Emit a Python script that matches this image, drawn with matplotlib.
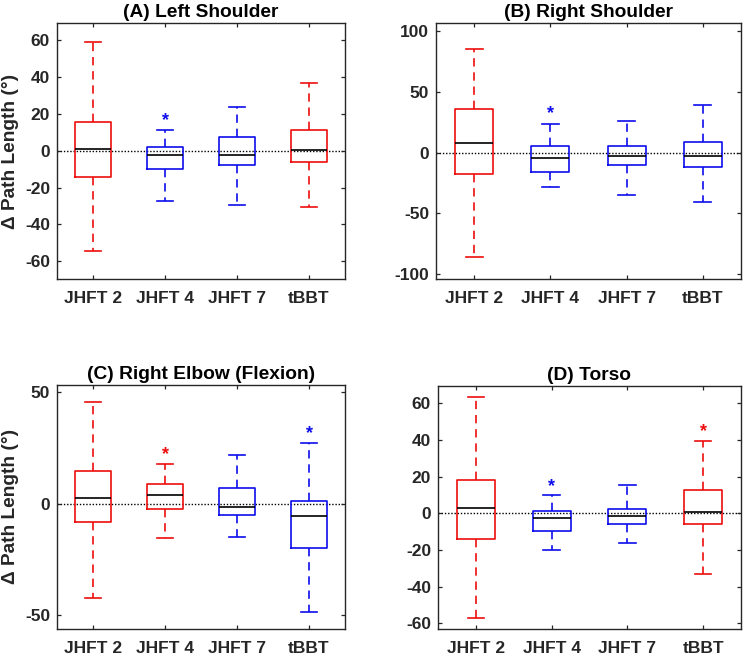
import matplotlib
matplotlib.use("Agg")
import matplotlib.pyplot as plt

plt.rcParams['font.family'] = ['Liberation Sans', 'DejaVu Sans']
plt.rcParams['font.weight'] = 'bold'

categories = ["JHFT 2", "JHFT 4", "JHFT 7", "tBBT"]
titles = ["(A) Left Shoulder", "(B) Right Shoulder", "(C) Right Elbow (Flexion)", "(D) Torso"]

# Panel A
A_whislo = [-54.1, -27.2, -29.7, -30.6]
A_q1     = [-14.4, -10.0, -7.6, -6.2]
A_med    = [1.0, -2.4, -2.6, 0.3]
A_q3     = [15.5, 2.0, 7.4, 11.2]
A_whishi = [58.7, 11.0, 23.4, 36.5]
A_colors = ["r", "b", "b", "r"]
A_stars  = [None, 20.0, None, None]

# Panel B
B_whislo = [-85.5, -28.1, -35.0, -40.7]
B_q1     = [-17.8, -16.1, -10.4, -11.5]
B_med    = [7.9, -4.4, -2.7, -2.7]
B_q3     = [36.1, 5.5, 5.7, 8.7]
B_whishi = [85.2, 24.0, 26.0, 39.3]
B_colors = ["r", "b", "b", "b"]
B_stars  = [None, 38.3, None, None]

# Panel C
C_whislo = [-42.7, -15.4, -14.9, -48.7]
C_q1     = [-8.3, -2.3, -5.2, -20.0]
C_med    = [2.6, 3.7, -1.4, -5.6]
C_q3     = [14.5, 8.9, 7.0, 1.0]
C_whishi = [45.5, 17.6, 21.8, 27.2]
C_colors = ["r", "r", "b", "b"]
C_stars  = [None, 25.3, None, 34.7]

# Panel D
D_whislo = [-57.3, -20.2, -16.0, -33.2]
D_q1     = [-13.8, -9.6, -5.9, -5.6]
D_med    = [2.8, -2.7, -1.7, 0.5]
D_q3     = [18.0, 1.3, 2.4, 12.9]
D_whishi = [63.8, 9.8, 15.3, 39.7]
D_colors = ["r", "b", "b", "r"]
D_stars  = [None, 18.4, None, 48.9]

yticks_list = [[-60, -40, -20, 0, 20, 40, 60], [-100, -50, 0, 50, 100],
               [-50, 0, 50], [-60, -40, -20, 0, 20, 40, 60]]
ylims = [(-69.5, 69), (-104, 107), (-56.3, 53.3), (-63, 69.7)]

panels = [
    (A_whislo, A_q1, A_med, A_q3, A_whishi, A_colors, A_stars),
    (B_whislo, B_q1, B_med, B_q3, B_whishi, B_colors, B_stars),
    (C_whislo, C_q1, C_med, C_q3, C_whishi, C_colors, C_stars),
    (D_whislo, D_q1, D_med, D_q3, D_whishi, D_colors, D_stars),
]

W, H = 746, 656
rects_px = [(57, 23, 345, 279), (436, 23, 741, 279),
            (57, 385, 345, 628.7), (438, 385.7, 741, 628.7)]

colmap = {"r": (0.93, 0.05, 0.05), "b": (0.05, 0.05, 0.93)}
axcol = (0.15, 0.15, 0.15)

fig = plt.figure(figsize=(W / 100, H / 100), dpi=100)

for i, (lo, q1, med, q3, hi, cols, stars) in enumerate(panels):
    l, t, r, b = rects_px[i]
    ax = fig.add_axes([l / W, 1 - b / H, (r - l) / W, (b - t) / H])
    pos = list(range(1, len(categories) + 1))
    ax.axhline(0, color="k", ls=(0, (1, 1.3)), lw=1.0, zorder=1)
    for j in range(len(categories)):
        c = colmap[cols[j]]
        stats = [dict(whislo=lo[j], q1=q1[j], med=med[j], q3=q3[j], whishi=hi[j], fliers=[])]
        ax.bxp(stats, positions=[pos[j]], widths=0.5, showfliers=False,
               boxprops=dict(color=c, lw=1.2),
               whiskerprops=dict(color=c, lw=1.2, ls=(0, (5, 3.5))),
               capprops=dict(color=c, lw=1.2),
               medianprops=dict(color="k", lw=1.2),
               capwidths=0.22, manage_ticks=False)
        if stars[j] is not None:
            ax.annotate("*", xy=(pos[j], stars[j]), xytext=(0, -8.5),
                        textcoords="offset points", ha="center", va="baseline",
                        color=c, fontsize=13, fontweight="bold")
    ax.set_xlim(0.5, 4.5)
    ax.set_ylim(*ylims[i])
    ax.set_xticks(pos)
    ax.set_xticklabels(categories)
    ax.set_yticks(yticks_list[i])
    ax.set_yticklabels([str(v) for v in yticks_list[i]])
    ax.tick_params(direction="in", length=3, width=0.9, color=axcol,
                   labelcolor=axcol, labelsize=12.5, top=True, right=True, pad=5)
    ax.tick_params(axis="x", pad=8.5)
    for s in ax.spines.values():
        s.set_color(axcol)
        s.set_linewidth(1.0)
    ax.set_title(titles[i], fontsize=13.8, fontweight="bold", color="k", pad=4)
    if i % 2 == 0:
        ax.set_ylabel("\u0394 Path Length (\u00b0)", fontsize=13.8, fontweight="bold",
                      color=axcol, labelpad=4)

fig.savefig("out.png", dpi=100)
